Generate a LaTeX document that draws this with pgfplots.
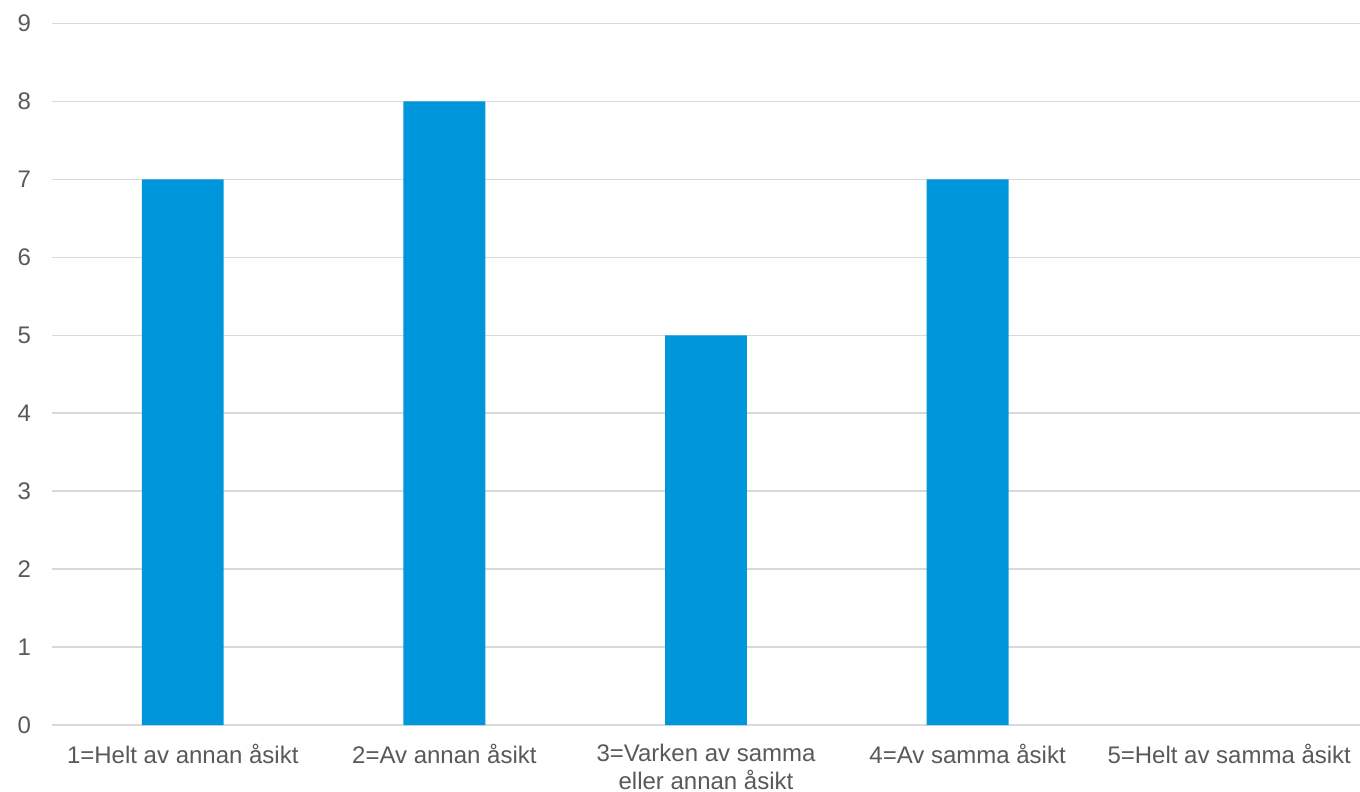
\documentclass[border=0pt]{standalone}
\usepackage{pgfplots}
\pgfplotsset{compat=1.18}
\usepackage{fontspec}
\setmainfont{Liberation Sans}
\definecolor{barblue}{RGB}{0,150,219}
\definecolor{gridgray}{RGB}{217,217,217}
\definecolor{textgray}{RGB}{89,89,89}
\begin{document}
\begin{tikzpicture}
\useasboundingbox (-26pt,-33.5pt) rectangle (654pt,362.5pt);
\begin{axis}[
  scale only axis,
  width=654pt, height=350.75pt,
  xmin=-0.5, xmax=4.5,
  ymin=0, ymax=9,
  ytick={0,1,...,9},
  xtick={0,1,2,3,4},
  xticklabels={{1=Helt av annan åsikt},{2=Av annan åsikt},{3=Varken av samma\\eller annan åsikt},{4=Av samma åsikt},{5=Helt av samma åsikt}},
  axis line style={draw=none},
  major tick length=0pt,
  ymajorgrids,
  grid style={color=gridgray, line width=0.75pt},
  tick label style={font=\fontsize{12}{14}\selectfont, text=textgray},
  /pgf/number format/assume math mode=true,
  yticklabel style={anchor=east, xshift=-7pt},
  xticklabel style={align=center, anchor=north, yshift=-6pt},
  ybar, bar width=0.313,
]
\addplot[fill=barblue, draw=none, restrict y to domain=0.5:10] coordinates {(0,7) (1,8) (2,5) (3,7) (4,0)};
\end{axis}
\end{tikzpicture}
\end{document}
